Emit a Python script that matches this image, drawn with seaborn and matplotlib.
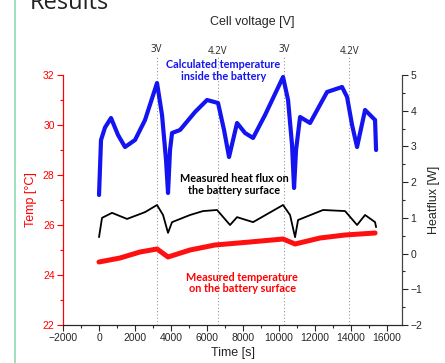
import matplotlib
matplotlib.use("Agg")
import matplotlib.pyplot as plt
import seaborn as sns
import pandas as pd
from matplotlib.lines import Line2D
from matplotlib.ticker import MultipleLocator

# calculated temperature inside the battery (left axis, degC)
calc_time = [0, 111, 333, 667, 1056, 1444, 2000, 2556, 3222, 3500, 3722, 3833, 3944,
             4056, 4500, 5333, 6000, 6611, 6944, 7222, 7667, 8111, 8556, 9222, 10222,
             10500, 10722, 10833, 10944, 11167, 11722, 12667, 13500, 13778, 14056,
             14333, 14778, 15333, 15389]
calc_temp = [27.2, 29.4, 29.9, 30.28, 29.6, 29.12, 29.4, 30.2, 31.68, 30.4, 28.6, 27.28,
             29.0, 29.68, 29.8, 30.52, 31.0, 30.88, 29.8, 28.72, 30.08, 29.68, 29.48,
             30.4, 31.92, 31.0, 29.2, 27.48, 29.0, 30.32, 30.08, 31.32, 31.52, 31.12,
             30.0, 29.12, 30.6, 30.2, 29.0]

# measured heat flux (right axis, W)
flux_time = [0, 167, 722, 1556, 2556, 3222, 3556, 3833, 4056, 5056, 5778, 6556, 7278,
             7667, 8556, 10222, 10611, 10889, 11056, 12444, 13667, 14333, 14778, 15333,
             15389]
flux_val = [0.46, 1.0, 1.14, 0.97, 1.16, 1.36, 1.08, 0.58, 0.88, 1.08, 1.19, 1.22, 0.80,
            1.02, 0.88, 1.36, 1.08, 0.46, 0.94, 1.22, 1.19, 0.80, 1.08, 0.88, 0.74]

# measured surface temperature (left axis, degC)
surf_time = [0, 1167, 2278, 3222, 3833, 5056, 6444, 8389, 10222, 10889, 12278, 13667, 15333]
surf_temp = [24.52, 24.68, 24.92, 25.04, 24.72, 25.0, 25.2, 25.32, 25.44, 25.24, 25.48,
             25.6, 25.68]

# cell voltage markers
volt_time = [3200, 6600, 10300, 13900]
volt_labels = ["3V", "4.2V", "3V", "4.2V"]

calc_df = pd.DataFrame({"t": calc_time, "v": calc_temp})
flux_df = pd.DataFrame({"t": flux_time, "v": flux_val})
surf_df = pd.DataFrame({"t": surf_time, "v": surf_temp})

sns.set_style("ticks")
plt.rcParams["font.family"] = ["Liberation Sans", "DejaVu Sans"]

fig = plt.figure(figsize=(4.45, 3.63), dpi=100)
ax = fig.add_axes([0.1416, 0.1047, 0.7618, 0.6887])
ax2 = ax.twinx()

sns.lineplot(data=calc_df, x="t", y="v", ax=ax, color="#1414f0", lw=3.0, zorder=3)
sns.lineplot(data=surf_df, x="t", y="v", ax=ax, color="#ff1010", lw=3.6, zorder=3)
sns.lineplot(data=flux_df, x="t", y="v", ax=ax2, color="black", lw=1.3)

ax.set_xlim(-2000, 16830)
ax.set_ylim(22, 32)
ax2.set_ylim(-2, 5)

for t, lab in zip(volt_time, volt_labels):
    ax.axvline(t, ymin=0, ymax=1.075, color="#999999", ls=(0, (1, 2)), lw=0.8,
               clip_on=False, zorder=1)
    ax.text(t, 32.8 + (0.0 if lab == "3V" else -0.1), lab, ha="center", va="bottom",
            fontsize=7, family="Open Sans")

ax.xaxis.set_major_locator(MultipleLocator(2000))
ax.xaxis.set_minor_locator(MultipleLocator(1000))
ax.yaxis.set_major_locator(MultipleLocator(2))
ax.yaxis.set_minor_locator(MultipleLocator(1))
ax2.yaxis.set_major_locator(MultipleLocator(1))
ax2.yaxis.set_minor_locator(MultipleLocator(0.5))

for a in (ax, ax2):
    a.tick_params(which="major", length=4, width=0.8, labelsize=7.5, pad=2)
    a.tick_params(which="minor", length=2, width=0.8)
    a.spines["top"].set_visible(False)

ax.tick_params(axis="y", which="both", colors="#ff0000")
ax.spines["left"].set_color("#ff0000")
ax2.spines["left"].set_color("#ff0000")
ax2.spines["right"].set_color("#444444")

ax.set_xlabel("Time [s]", fontsize=9, labelpad=3)
ax.set_ylabel("Temp [°C]", fontsize=9, color="#ff0000", labelpad=4)
ax2.set_ylabel("Heatflux [W]", fontsize=9, rotation=90, labelpad=4)

ax.text(6900, 32.62, "Calculated temperature\ninside the battery", color="#1414f0",
        fontsize=7.8, fontweight="bold", family="Lato", ha="center", va="top",
        linespacing=1.05)
ax2.text(7500, 2.25, "Measured heat flux on\nthe battery surface", color="black",
         fontsize=7.8, fontweight="bold", family="Lato", ha="center", va="top",
         linespacing=1.05)
ax.text(7950, 24.12, "Measured temperature\non the battery surface", color="#ff0000",
        fontsize=7.8, fontweight="bold", family="Lato", ha="center", va="top",
        linespacing=1.05)

fig.text(252 / 445, 1 - 22 / 363, "Cell voltage [V]", ha="center", va="center",
         fontsize=9)
fig.text(30 / 445, 1 - 9 / 363, "Results", ha="left", va="baseline", fontsize=17,
         family="Open Sans", color="#222222")
fig.add_artist(Line2D([15 / 445, 15 / 445], [0, 1], color="#8ddcb0", lw=1.2,
                      transform=fig.transFigure))

fig.savefig("out.png", dpi=100)
